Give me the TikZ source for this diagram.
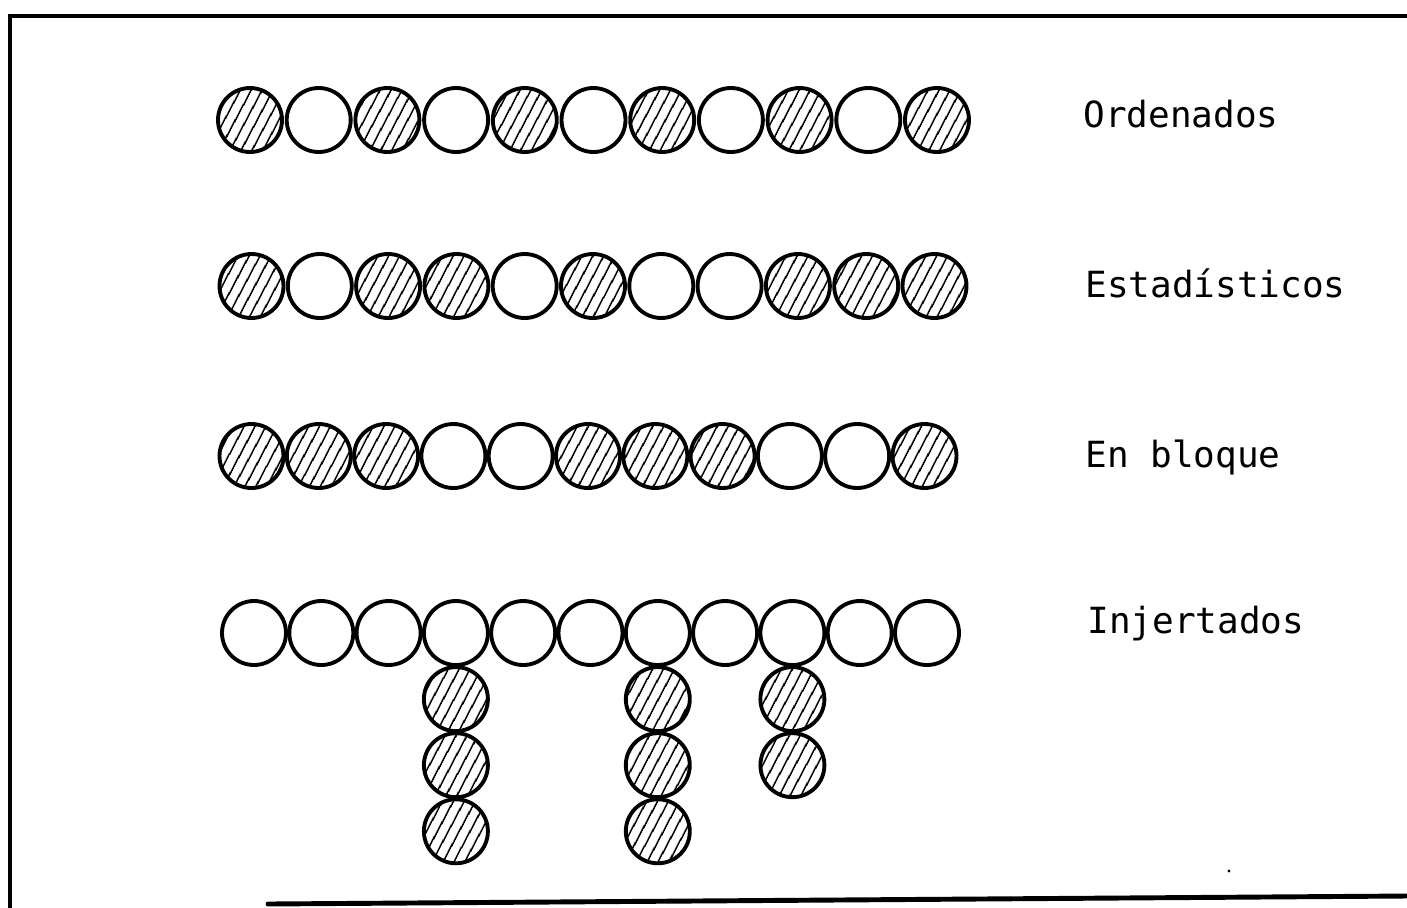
\documentclass[tikz,border=0pt]{standalone}
\usepackage{fontspec}
\setmonofont{DejaVu Sans Mono}
\usepackage{tikz}
\usetikzlibrary{patterns.meta,positioning}
\tikzset{
  ball/.style={circle,draw=black,line width=2.2pt,minimum size=1.28cm,inner sep=0pt},
  hb/.style={ball,pattern={Lines[angle=62,distance=5.4pt,line width=1.1pt]}},
  ob/.style={ball,fill=white},
  tag/.style={anchor=base west,inner sep=0pt,font=\ttfamily\fontsize{20.5}{24}\selectfont},
  frame/.style={line width=2.8pt,line cap=round}
}

\begin{document}
\begin{tikzpicture}[x=0.02cm,y=-0.02cm]
  \useasboundingbox (0,0) rectangle (1407,907);
  \draw[frame] (10,907) -- (10,16) -- (1407,16);
  \draw[frame] (268,904) -- (1407,896);
  \fill (1229,871) circle (1.6);

  \foreach \s [count=\k] in {hb,ob,hb,ob,hb,ob,hb,ob,hb,ob,hb}
    \node[\s] (ord-\k) at ({250+(\k-1)*68.7},120) {};
  \node[tag] (ord) at (1083,127) {Ordenados};

  \foreach \s [count=\k] in {hb,ob,hb,hb,ob,hb,ob,ob,hb,hb,hb}
    \node[\s] (est-\k) at ({251.5+(\k-1)*68.3},286) {};
  \node[tag] (est) at (1085,297) {Estadísticos};

  \foreach \s [count=\k] in {hb,hb,hb,ob,ob,hb,hb,hb,ob,ob,hb}
    \node[\s] (blq-\k) at ({251.5+(\k-1)*67.3},456) {};
  \node[tag] (blq) at (1085,467) {En bloque};

  \foreach \k in {1,...,11}
    \node[ob] (inj-\k) at ({254+(\k-1)*67.3},633) {};
  \node[tag] (inj) at (1087,633) {Injertados};

  \node[hb,below=-1pt of inj-4] (inj-4a) {};
  \node[hb,below=-1pt of inj-4a] (inj-4b) {};
  \node[hb,below=-1pt of inj-4b] (inj-4c) {};
  \node[hb,below=-1pt of inj-7] (inj-7a) {};
  \node[hb,below=-1pt of inj-7a] (inj-7b) {};
  \node[hb,below=-1pt of inj-7b] (inj-7c) {};
  \node[hb,below=-1pt of inj-9] (inj-9a) {};
  \node[hb,below=-1pt of inj-9a] (inj-9b) {};
\end{tikzpicture}
\end{document}
